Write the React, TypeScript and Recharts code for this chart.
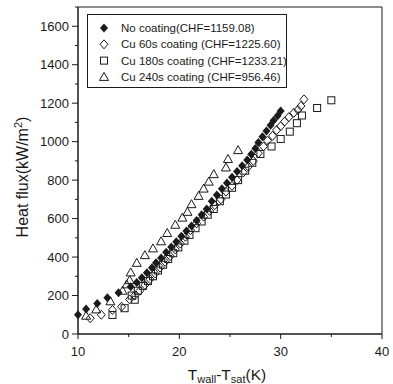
import React from "react";
import { ScatterChart, Scatter, XAxis, YAxis, Legend, ReferenceArea } from "recharts";

// wall superheat (K) and heat flux (kW/m2)
const noCoatingT = [10.0, 10.8, 11.9, 12.9, 14.0, 15.2, 15.8, 16.3, 16.8, 17.3, 17.7, 18.2, 18.7, 19.2, 19.7, 20.2, 20.7, 21.2, 21.7, 22.2, 22.7, 23.2, 23.7, 24.2, 24.7, 25.2, 25.7, 26.2, 26.7, 27.1, 27.5, 27.8, 28.2, 28.6, 29.0, 29.3, 29.7, 30.0];
const noCoatingQ = [100, 130, 158, 188, 215, 245, 268, 292, 318, 345, 370, 395, 425, 452, 480, 508, 535, 562, 590, 620, 650, 690, 722, 755, 785, 815, 845, 875, 905, 935, 965, 995, 1025, 1055, 1085, 1110, 1135, 1159];

const cu60T = [11.2, 12.3, 13.4, 14.3, 15.1, 15.6, 16.1, 16.6, 17.1, 17.6, 18.1, 18.6, 19.1, 19.6, 20.1, 20.6, 21.1, 21.7, 22.4, 23.0, 23.5, 24.1, 24.6, 25.2, 25.7, 26.3, 26.8, 27.3, 27.8, 28.3, 28.7, 29.2, 29.6, 30.0, 30.4, 30.8, 31.3, 31.7, 32.0, 32.3];
const cu60Q = [82, 100, 125, 142, 180, 200, 225, 255, 285, 315, 345, 375, 405, 440, 470, 505, 540, 575, 610, 640, 670, 700, 740, 770, 800, 840, 870, 900, 940, 975, 1005, 1030, 1060, 1080, 1105, 1127, 1150, 1165, 1185, 1220];

const cu180T = [13.4, 14.6, 15.6, 15.3, 15.9, 16.4, 16.9, 17.4, 17.9, 18.4, 18.9, 19.4, 19.9, 20.5, 21.0, 21.6, 22.2, 22.8, 23.4, 24.0, 24.6, 25.2, 25.8, 26.5, 27.2, 28.0, 29.1, 30.0, 30.9, 31.6, 32.1, 33.6, 35.0];
const cu180Q = [99, 134, 178, 200, 225, 250, 275, 300, 330, 360, 390, 420, 450, 485, 515, 550, 585, 620, 650, 690, 725, 760, 800, 849, 890, 936, 975, 1014, 1052, 1096, 1136, 1175, 1215];

const cu240T = [10.8, 11.8, 13.2, 14.4, 14.8, 15.1, 15.2, 15.8, 16.6, 17.4, 18.2, 18.8, 19.6, 20.3, 20.8, 21.2, 21.9, 22.4, 22.9, 23.4, 24.6, 24.8, 25.8];
const cu240Q = [95, 128, 170, 225, 258, 280, 320, 370, 410, 445, 482, 525, 568, 605, 635, 675, 718, 756, 792, 831, 866, 910, 956];

const seriesNames = [
  "No coating(CHF=1159.08)",
  "Cu 60s coating (CHF=1225.60)",
  "Cu 180s coating (CHF=1233.21)",
  "Cu 240s coating (CHF=956.46)",
];

const xTicks = [10, 15, 20, 25, 30, 35, 40];
const xLabelled = [10, 20, 30, 40];
const yTicks = [0, 100, 200, 300, 400, 500, 600, 700, 800, 900, 1000, 1100, 1200, 1300, 1400, 1500, 1600, 1700];
const yLabelled = [0, 200, 400, 600, 800, 1000, 1200, 1400, 1600];

const zip = (t: number[], q: number[]) => t.map((x, i) => ({ x, y: q[i] }));

const FONT = "'Liberation Sans', Arial, sans-serif";
const INK = "#1a1a1a";

const FilledDiamond = (p: any) => (
  <path d={`M${p.cx},${p.cy - 4.5}L${p.cx + 4},${p.cy}L${p.cx},${p.cy + 4.5}L${p.cx - 4},${p.cy}Z`} fill={INK} />
);
const OpenDiamond = (p: any) => (
  <path d={`M${p.cx},${p.cy - 4.5}L${p.cx + 4},${p.cy}L${p.cx},${p.cy + 4.5}L${p.cx - 4},${p.cy}Z`} fill="none" stroke={INK} strokeWidth={1} />
);
const OpenSquare = (p: any) => (
  <rect x={p.cx - 3.5} y={p.cy - 3.5} width={7} height={7} fill="none" stroke={INK} strokeWidth={1} />
);
const OpenTriangle = (p: any) => (
  <path d={`M${p.cx},${p.cy - 4.5}L${p.cx + 4.5},${p.cy + 3.5}L${p.cx - 4.5},${p.cy + 3.5}Z`} fill="none" stroke={INK} strokeWidth={1} />
);
const shapes = [FilledDiamond, OpenDiamond, OpenSquare, OpenTriangle];

const XTick = (props: any) => {
  const { x, y, payload } = props;
  const major = xLabelled.includes(payload.value);
  return (
    <g>
      <line x1={x} x2={x} y1={y} y2={y + (major ? 5 : 3)} stroke={INK} />
      {major && (
        <text x={x} y={y + 17} textAnchor="middle" dominantBaseline="central" fontSize={13} fill={INK} fontFamily={FONT}>
          {payload.value}
        </text>
      )}
    </g>
  );
};

const YTick = (props: any) => {
  const { x, y, payload } = props;
  const major = yLabelled.includes(payload.value);
  return (
    <g>
      <line x1={x - (major ? 6 : 3)} x2={x} y1={y} y2={y} stroke={INK} />
      {major && (
        <text x={x - 9} y={y} textAnchor="end" dominantBaseline="central" fontSize={13} fill={INK} fontFamily={FONT}>
          {payload.value}
        </text>
      )}
    </g>
  );
};

const XTitle = (props: any) => {
  const { viewBox } = props;
  const cx = viewBox.x + viewBox.width / 2 - 3;
  return (
    <text x={cx} y={380} textAnchor="middle" fontSize={15.5} fill={INK} fontFamily={FONT}>
      <tspan>T</tspan>
      <tspan fontSize={11} dy={3}>wall</tspan>
      <tspan dy={-3}>-T</tspan>
      <tspan fontSize={11} dy={3}>sat</tspan>
      <tspan dy={-3}>(K)</tspan>
    </text>
  );
};

const YTitle = () => (
  <text x={0} y={0} transform="translate(28,177) rotate(-90)" textAnchor="middle" fontSize={16} fill={INK} fontFamily={FONT}>
    <tspan>Heat flux(kW/m</tspan>
    <tspan fontSize={11} dy={-6}>2</tspan>
    <tspan dy={6}>)</tspan>
  </text>
);

const LegendBox = () => (
  <div style={{ border: `1px solid ${INK}`, width: 198, height: 72, background: "#fff", boxSizing: "content-box" }}>
    <svg width={198} height={72}>
      {seriesNames.map((name, i) => {
        const Shape = shapes[i];
        const cy = 13 + i * 16.3;
        return (
          <g key={name}>
            <Shape cx={16} cy={cy} />
            <text x={33} y={cy} dominantBaseline="central" fontSize={11.5} fill={INK} fontFamily={FONT}>
              {name}
            </text>
          </g>
        );
      })}
    </svg>
  </div>
);

export default function App() {
  const series = [
    zip(noCoatingT, noCoatingQ),
    zip(cu60T, cu60Q),
    zip(cu180T, cu180Q),
    zip(cu240T, cu240Q),
  ];
  return (
    <div style={{ position: "absolute", left: 0, top: 0, background: "#fff" }}>
      <ScatterChart width={393} height={384} margin={{ top: 7, right: 11, bottom: 0, left: 0 }}>
        <XAxis
          type="number"
          dataKey="x"
          domain={[10, 40]}
          ticks={xTicks}
          interval={0}
          tickSize={0}
          tickMargin={0}
          tick={<XTick />}
          height={50}
          axisLine={{ stroke: INK }}
          label={<XTitle />}
        />
        <YAxis
          type="number"
          dataKey="y"
          domain={[0, 1700]}
          ticks={yTicks}
          interval={0}
          tickSize={0}
          tickMargin={0}
          tick={<YTick />}
          width={78}
          axisLine={{ stroke: INK }}
          label={<YTitle />}
        />
        <ReferenceArea x1={10} x2={40} y1={0} y2={1700} fill="none" stroke={INK} strokeWidth={1} />
        {series.map((d, i) => (
          <Scatter key={seriesNames[i]} name={seriesNames[i]} data={d} shape={shapes[i]} isAnimationActive={false} />
        ))}
        <Legend
          layout="vertical"
          align="center"
          verticalAlign="middle"
          content={<LegendBox />}
          wrapperStyle={{ left: 87, top: 14, width: 200 }}
        />
      </ScatterChart>
    </div>
  );
}
